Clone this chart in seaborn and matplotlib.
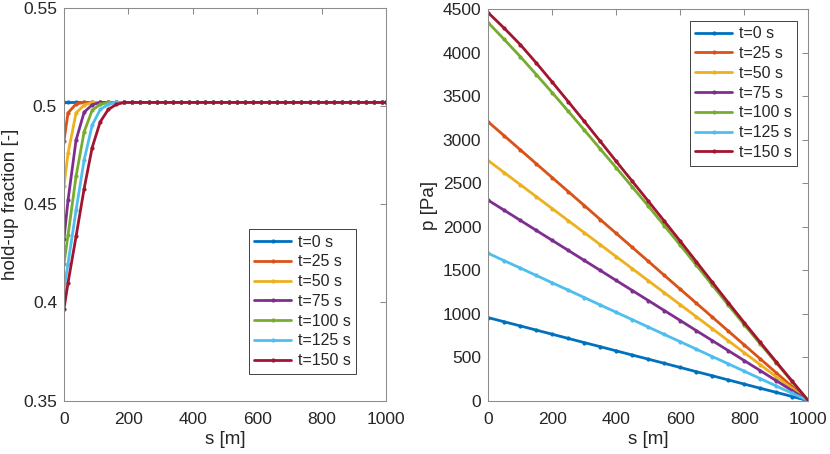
import numpy as np
import matplotlib
matplotlib.use("Agg")
import matplotlib.pyplot as plt
import seaborn as sns
from matplotlib.ticker import FuncFormatter

# --- data ---
labels = ["t=0 s", "t=25 s", "t=50 s", "t=75 s", "t=100 s", "t=125 s", "t=150 s"]
colors = ["#0072BD", "#D95319", "#EDB120", "#7E2F8E", "#77AC30", "#4DBEEE", "#A2142F"]

# hold-up fraction: boundary points + cell centres every 25 m
s_hold = np.concatenate([[0.0], np.arange(12.5, 1000, 25), [1000.0]])
steady = 0.502
hold_t0 = [steady] * 42
hold_t25 = [0.4824, 0.4967, 0.5012] + [steady] * 39
hold_t50 = [0.4594, 0.4760, 0.4967, 0.5006] + [steady] * 38
hold_t75 = [0.4326, 0.4521, 0.4828, 0.4970, 0.5008] + [steady] * 37
hold_t100 = [0.4198, 0.4343, 0.4644, 0.4870, 0.4980, 0.5010] + [steady] * 36
hold_t125 = [0.4065, 0.4198, 0.4470, 0.4726, 0.4904, 0.4984, 0.5010] + [steady] * 35
hold_t150 = [0.3968, 0.4100, 0.4337, 0.4580, 0.4790, 0.4921, 0.4984, 0.5010] + [steady] * 34

# pressure, every 50 m
s_p = np.arange(0, 1001, 50)
p_t0 = [955, 907, 860, 812, 764, 716, 668, 621, 573, 525, 478,
        430, 382, 334, 287, 239, 191, 143, 96, 48, 0]
p_t25 = [3205, 3045, 2885, 2724, 2564, 2404, 2244, 2083, 1923, 1763, 1603,
         1442, 1282, 1122, 962, 801, 641, 481, 321, 160, 0]
p_t50 = [2760, 2622, 2484, 2346, 2208, 2070, 1932, 1794, 1656, 1518, 1380,
         1242, 1104, 966, 828, 690, 552, 414, 276, 138, 0]
p_t75 = [2304, 2189, 2074, 1958, 1843, 1728, 1613, 1498, 1382, 1267, 1152,
         1037, 922, 806, 691, 576, 461, 346, 230, 115, 0]
p_t100 = [4345, 4153, 3956, 3750, 3541, 3327, 3112, 2894, 2677, 2458, 2238,
          2013, 1788, 1559, 1329, 1100, 874, 654, 435, 217, 0]
p_t125 = [1694, 1609, 1525, 1440, 1355, 1271, 1186, 1101, 1016, 932, 847,
          762, 678, 593, 508, 424, 339, 254, 169, 85, 0]
p_t150 = [4460, 4282, 4094, 3883, 3663, 3438, 3212, 2982, 2751, 2523, 2295,
          2065, 1834, 1599, 1363, 1128, 897, 671, 446, 223, 0]

hold = [hold_t0, hold_t25, hold_t50, hold_t75, hold_t100, hold_t125, hold_t150]
press = [p_t0, p_t25, p_t50, p_t75, p_t100, p_t125, p_t150]

sns.set_style("white")
plt.rcParams["font.family"] = ["Liberation Sans", "DejaVu Sans"]
plt.rcParams["font.size"] = 12.5

fig = plt.figure(figsize=(8.3, 4.54), dpi=100)
ax1 = fig.add_axes([0.0771, 0.1178, 0.388, 0.8639])
ax2 = fig.add_axes([0.5883, 0.1174, 0.3855, 0.8621])

for ys, c, lab in zip(hold, colors, labels):
    sns.lineplot(x=s_hold, y=ys, ax=ax1, color=c, label=lab, lw=2.0,
                 marker=".", markersize=6, markeredgewidth=0, sort=False)
for ys, c, lab in zip(press, colors, labels):
    sns.lineplot(x=s_p, y=ys, ax=ax2, color=c, label=lab, lw=2.0,
                 marker=".", markersize=6, markeredgewidth=0, sort=False)

ax1.set_xlim(0, 1000)
ax1.set_ylim(0.35, 0.55)
ax1.set_yticks([0.35, 0.4, 0.45, 0.5, 0.55])
ax1.yaxis.set_major_formatter(FuncFormatter(lambda v, p: f"{v:g}"))
ax1.set_xlabel("s [m]")
ax1.set_ylabel("hold-up fraction [-]")

ax2.set_xlim(0, 1000)
ax2.set_ylim(0, 4500)
ax2.set_yticks(np.arange(0, 4501, 500))
ax2.set_xlabel("s [m]")
ax2.set_ylabel("p [Pa]")

for ax in (ax1, ax2):
    ax.set_xticks(np.arange(0, 1001, 200))
    ax.tick_params(direction="in", top=True, right=True, length=4, width=0.75,
                   color="#8c8c8c", labelcolor="#262626", labelsize=12.5)
    ax.tick_params(axis="x", pad=8)
    ax.tick_params(axis="y", pad=5)
    ax.xaxis.label.set_color("#262626")
    ax.yaxis.label.set_color("#262626")
    ax.xaxis.label.set_size(13.5)
    ax.yaxis.label.set_size(13.5)
    ax.xaxis.labelpad = 3
    ax.yaxis.labelpad = 3
    for sp in ax.spines.values():
        sp.set_visible(True)
        sp.set_color("#8c8c8c")
        sp.set_linewidth(0.75)

leg_kw = dict(frameon=True, fancybox=False, edgecolor="#404040", framealpha=1,
              fontsize=11.5, handlelength=2.3, labelspacing=0.3, borderpad=0.35,
              handletextpad=0.4, borderaxespad=0)
l1 = ax1.legend(loc="lower right", bbox_to_anchor=(0.907, 0.068), **leg_kw)
l2 = ax2.legend(loc="upper right", bbox_to_anchor=(0.965, 0.971), **leg_kw)
for lg in (l1, l2):
    lg.get_frame().set_linewidth(0.7)

fig.savefig("out.png", dpi=100)
